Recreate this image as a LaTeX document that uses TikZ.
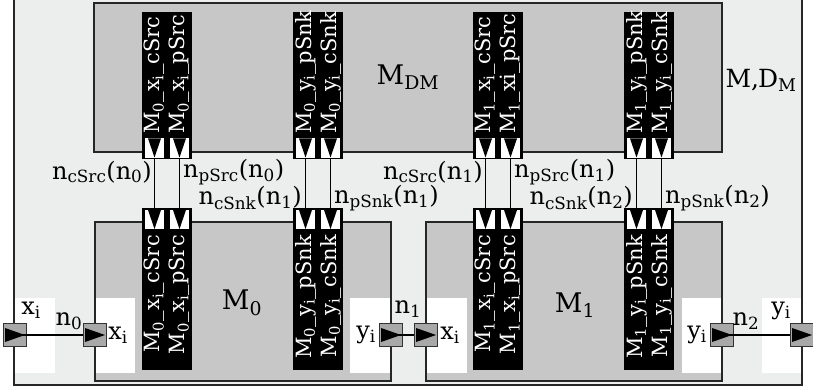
\documentclass[tikz,border=0pt]{standalone}
\usepackage{color}
\usepackage{tikz}
\usepackage{fontspec}
\setmainfont{DejaVu Serif}
\usetikzlibrary{arrows}

\definecolor{framegray}{RGB}{236,238,237}
\definecolor{boxgray}{RGB}{198,199,198}
\definecolor{portgray}{RGB}{168,168,168}

\tikzset{
  modbox/.style={draw=black!85, fill=boxgray, line width=1.5pt},
  port/.style={draw=black!80, fill=portgray, line width=1.2pt, minimum size=23pt, inner sep=0pt,
    path picture={\fill[black] ([xshift=-10pt,yshift=7pt]path picture bounding box.center)
      -- ([xshift=10pt]path picture bounding box.center)
      -- ([xshift=-10pt,yshift=-7pt]path picture bounding box.center) -- cycle;}},
  pin/.style={draw=black, fill=white, line width=1.5pt, minimum size=21pt, inner sep=0pt,
    path picture={\fill[black] ([xshift=-6.5pt,yshift=9.5pt]path picture bounding box.center)
      -- ([xshift=6.5pt,yshift=9.5pt]path picture bounding box.center)
      -- ([yshift=-9.5pt]path picture bounding box.center) -- cycle;}},
  barlabel/.style={text=white, rotate=90, inner sep=0pt, font=\fontsize{21}{23}\selectfont},
  modname/.style={font=\fontsize{27}{30}\selectfont},
  wire/.style={line width=1.5pt}
}

\begin{document}
\begin{tikzpicture}[x=1pt, y=1pt, inner sep=1pt, font=\fontsize{24}{27}\selectfont]
	\clip (0,0) rectangle (813,391);

	% outer frame M, D_M
	\fill[framegray] (14,6) rectangle (802,400);
	\fill[white] (14,18) rectangle (55,93);
	\fill[white] (762,18) rectangle (802,93);
	\draw[line width=1.5pt, black!85] (14,6) rectangle (802,400);

	% modules
	\draw[modbox] (94,239) rectangle (722,388);
	\draw[modbox] (95,10) rectangle (391,169);
	\draw[modbox] (426,10) rectangle (722,169);
	\fill[white] (95.75,18) rectangle (135,93);
	\fill[white] (350,18) rectangle (390.25,93);
	\fill[white] (426.75,18) rectangle (467,93);
	\fill[white] (682,18) rectangle (721.25,93);

	% black port bars
	\foreach \bx in {142,167,293,318,473,498,624,649}{
	  \fill[black] (\bx,232) rectangle ++(25,147);
	  \fill[black] (\bx,21) rectangle ++(25,162);
	}

	\foreach \bx/\txt [count=\i] in {
	    142/{M\textsubscript{0}\_x\textsubscript{i}\_cSrc},
	    167/{M\textsubscript{0}\_x\textsubscript{i}\_pSrc},
	    293/{M\textsubscript{0}\_y\textsubscript{i}\_pSnk},
	    318/{M\textsubscript{0}\_y\textsubscript{i}\_cSnk},
	    473/{M\textsubscript{1}\_x\textsubscript{i}\_cSrc},
	    498/{M\textsubscript{1}\_xi\_pSrc},
	    624/{M\textsubscript{1}\_y\textsubscript{i}\_pSnk},
	    649/{M\textsubscript{1}\_y\textsubscript{i}\_cSnk}}{
	  \node[barlabel, anchor=west] (ut\i) at (\bx+12.5,257) {\txt};
	}
	\foreach \bx/\txt [count=\i] in {
	    142/{M\textsubscript{0}\_x\textsubscript{i}\_cSrc},
	    167/{M\textsubscript{0}\_x\textsubscript{i}\_pSrc},
	    293/{M\textsubscript{0}\_y\textsubscript{i}\_pSnk},
	    318/{M\textsubscript{0}\_y\textsubscript{i}\_cSnk},
	    473/{M\textsubscript{1}\_x\textsubscript{i}\_cSrc},
	    498/{M\textsubscript{1}\_x\textsubscript{i}\_pSrc},
	    624/{M\textsubscript{1}\_y\textsubscript{i}\_pSnk},
	    649/{M\textsubscript{1}\_y\textsubscript{i}\_cSnk}}{
	  \node[barlabel, anchor=east] (lt\i) at (\bx+12.5,156) {\txt};
	}

	% pins and links between M_DM and M_0, M_1
	\foreach \bx [count=\i] in {142,167,293,318,473,498,624,649}{
	  \node[pin] (up\i) at (\bx+12.5,243) {};
	  \node[pin] (lo\i) at (\bx+12.5,171.5) {};
	  \draw[wire] (up\i.south) -- (lo\i.north);
	}

	\node[anchor=east] (cs0) at (153,219) {n\textsubscript{cSrc}(n\textsubscript{0})};
	\node[anchor=west] (ps0) at (182,219) {n\textsubscript{pSrc}(n\textsubscript{0})};
	\node[anchor=east] (ck1) at (303,193) {n\textsubscript{cSnk}(n\textsubscript{1})};
	\node[anchor=west] (pk1) at (333,193) {n\textsubscript{pSnk}(n\textsubscript{1})};
	\node[anchor=east] (cs1) at (484,219) {n\textsubscript{cSrc}(n\textsubscript{1})};
	\node[anchor=west] (ps1) at (513,219) {n\textsubscript{pSrc}(n\textsubscript{1})};
	\node[anchor=east] (ck2) at (634,193) {n\textsubscript{cSnk}(n\textsubscript{2})};
	\node[anchor=west] (pk2) at (664,193) {n\textsubscript{pSnk}(n\textsubscript{2})};

	% ports x_i -> M_0 -> M_1 -> y_i
	\node[port] (inX) at (15,56) {};
	\node[port] (m0in) at (95,56) {};
	\node[port] (m0out) at (391,56) {};
	\node[port] (m1in) at (426,56) {};
	\node[port] (m1out) at (722,56) {};
	\node[port] (outY) at (802,56) {};
	\draw[wire] (inX.center) -- (m0in.west);
	\draw[wire] (m0out.center) -- (m1in.west);
	\draw[wire] (m1out.center) -- (outY.west);

	\node (xin) at (31,81) {x\textsubscript{i}};
	\node (n0) at (69,70) {n\textsubscript{0}};
	\node (x0) at (118,56) {x\textsubscript{i}};
	\node (y0) at (366,56) {y\textsubscript{i}};
	\node (n1) at (408,82) {n\textsubscript{1}};
	\node (x1) at (450,56) {x\textsubscript{i}};
	\node (y1) at (697,56) {y\textsubscript{i}};
	\node (n2) at (746,70) {n\textsubscript{2}};
	\node (yout) at (781,80) {y\textsubscript{i}};

	% module names
	\node[modname] (mdm) at (408,314) {M\textsubscript{DM}};
	\node[modname, font=\fontsize{25}{28}\selectfont] (mdmouter) at (761,311) {M,\kern-1pt D\textsubscript{M}};
	\node[modname] (m0) at (242,88) {M\textsubscript{0}};
	\node[modname] (m1) at (575,86) {M\textsubscript{1}};

\end{tikzpicture}
\end{document}
